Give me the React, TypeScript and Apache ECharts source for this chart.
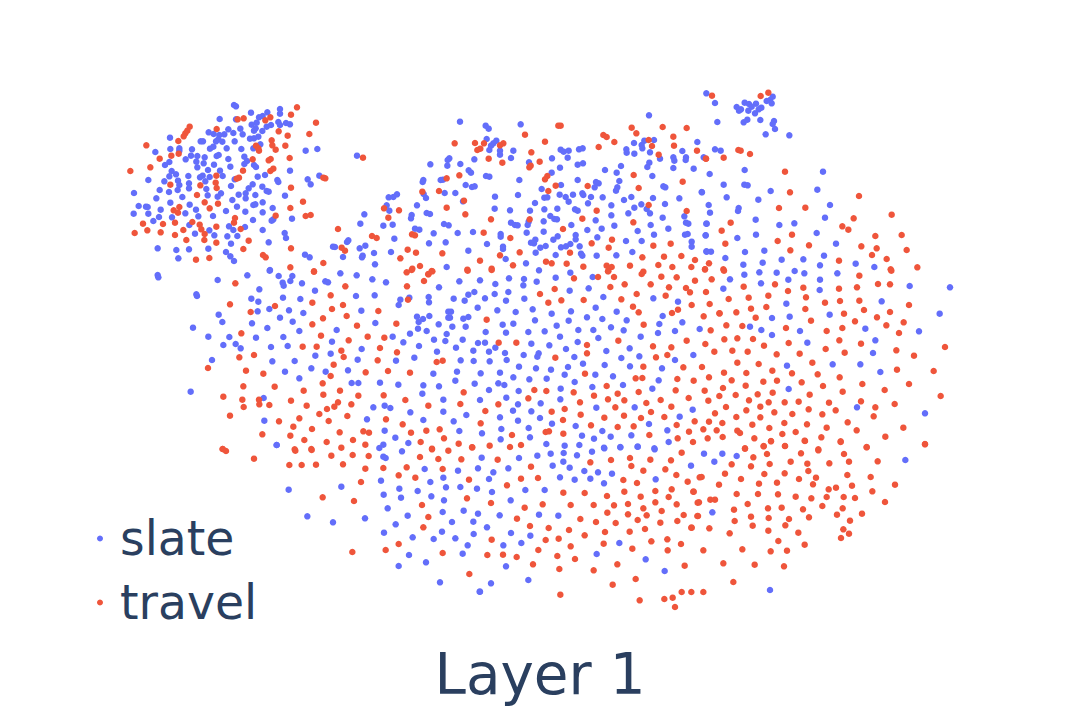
import React, { useEffect, useRef } from "react";
import * as echarts from "echarts";

// Values, per region. Each pair is (x, y) in thirds of a
// unit, measured from the region's origin on the 1080 x 720 plane.
const slateNW = [372,75,378,79,423,98,510,87,510,101,472,97,458,108,447,112,329,117,378,118,505,126,510,135,528,129,540,133,483,135,470,140,440,128,425,134,437,145,432,152,391,146,355,148,296,157,311,162,328,165,343,163,370,159,398,163,457,153,180,173,420,176,432,175,445,170,325,178,318,184,337,185,374,184,279,184,272,184,451,193,181,207,208,205,208,212,136,216,246,208,300,206,310,200,350,205,394,207,430,205,243,227,262,228,284,232,227,238,320,228,326,225,403,230,355,237,178,246,165,255,259,245,281,250,262,262,312,254,411,243,403,252,432,255,438,261,361,260,185,273,198,283,115,300,163,304,178,289,235,288,294,270,330,272,278,287,270,292,299,291,338,288,443,290,465,285,540,272,204,302,208,315,286,304,374,298,502,300,505,306,593,298,602,313,628,287,587,212,622,207,741,227,237,310,237,325,203,330,149,330,177,336,289,327,363,318,416,325,428,313,457,320,470,333,476,335,72,339,139,355,217,351,293,346,333,340,323,350,386,344,407,340,407,355,436,345,525,347,367,360,181,368,239,374,86,378,108,380,113,381,152,389,258,389,381,380,430,375,436,373,458,367,488,384,348,393,406,395,458,397,71,401,115,401,226,400,147,411,186,412,265,409,309,408,546,416,429,420,490,418,485,422,130,423,238,435,357,439,370,450,405,441,298,451,458,450,255,461,313,466,352,469,382,468,524,459,528,474,476,487,363,491,143,505,199,510,237,508,295,506,348,516,361,529,372,543,205,535,585,524,599,532,669,500,675,501,711,486,715,481,749,505,766,497,792,519,843,516,758,527,756,532,699,531,820,437,848,434,751,431,763,403,838,392,830,376,836,352,850,351,861,343,853,476,795,553,480,570,143,585,145,592];
const travelNW = [561,82,543,104,383,118,401,115,481,112,466,121,618,128,239,140,232,152,226,160,221,169,320,147,506,154,598,162,533,167,205,183,109,196,485,181,487,196,497,209,526,197,438,197,445,205,447,212,184,227,206,221,149,236,539,234,428,238,482,237,476,241,121,262,61,273,399,272,490,266,481,273,319,287,387,293,380,296,646,295,181,314,271,316,317,308,320,324,543,323,261,345,579,365,284,367,324,371,208,381,191,391,204,398,299,385,541,384,587,408,602,405,822,385,867,391,497,407,375,414,372,428,835,413,247,426,195,428,159,432,99,431,269,434,274,448,319,440,392,447,112,451,152,457,74,459,684,447,220,450,284,462,195,465,786,468,800,474,229,480,283,480,416,482,319,488,543,505,400,507,695,503,705,512,893,509,459,525,467,532,871,535,258,539,298,534,640,549,541,562,612,574,759,233,640,293];

const slateN = [717,106,150,125,332,133,227,137,236,146,230,177,259,182,250,190,243,197,238,210,270,212,270,224,310,212,452,209,461,215,476,212,507,208,518,205,672,189,703,182,732,180,695,195,697,205,649,208,650,218,673,221,720,217,817,213,862,186,118,235,113,240,193,238,303,234,426,235,473,233,750,236,790,232,793,242,828,232,827,240,61,253,112,257,151,252,357,247,503,254,519,250,718,248,712,261,450,263,585,270,633,258,620,278,790,264,851,266,176,271,183,278,425,278,727,288,228,288,238,290,40,300,38,306,92,300,99,299,328,300,503,300,628,303,566,310,558,306,554,322,622,322,618,332,167,315,186,321,194,319,395,327,453,315,760,319,766,322,875,336,104,339,136,339,41,342,48,354,255,350,324,345,449,344,489,344,517,340,520,345,403,353,412,352,543,351,578,352,467,351,664,351,729,354,808,355,159,364,642,360,476,365,375,369,534,370,694,373,21,376,604,376,765,372,254,386,442,386,300,391,360,392,403,388,495,388,503,392,673,383,710,387,720,400,655,400,50,399,60,402,5,405,3,415,604,406,758,413,823,409,421,408,433,417,441,418,303,428,315,435,323,436,401,424,356,425,353,435,557,421,102,432,116,436,484,435,722,435,828,428,835,431,889,431,613,437,575,446,532,450,683,453,775,446,15,446,28,449,71,460,189,456,143,459,401,455,350,458,272,462,272,470,443,469,497,465,497,478,430,479,562,472,732,464,825,464,833,462,887,466,376,479,363,488,372,490,648,483,695,483,845,485,845,500,57,490,107,487,231,492,279,500,279,507,407,498,391,503,453,502,468,499,481,492,509,499,175,512,667,516,889,514,377,518,437,525,513,521,517,527,560,527,619,526,287,537,110,561,348,550,387,571];
const travelN = [452,137,445,137,665,143,758,141,830,144,345,164,679,160,580,165,590,171,134,190,195,189,222,190,280,190,270,196,405,185,613,186,566,201,716,180,726,198,790,170,792,197,211,206,202,210,861,212,364,217,746,224,888,236,236,236,277,248,389,245,358,262,362,257,671,285,412,288,405,298,148,286,110,295,437,317,533,318,818,305,686,324,37,335,87,333,415,333,162,362,716,375,110,383,560,392,830,393,166,403,243,418,359,418,517,416,670,427,459,447,221,458,6,463,15,466,301,474,606,479,782,491,545,490,730,497,596,503,480,518,18,518,97,520,329,517,270,526,697,532,762,530,814,528,855,540,210,542,408,545,425,550,470,551,30,558,309,556,520,560,590,557,605,561,660,557,745,555,787,561,844,561,885,568,7,566,172,569,245,566,595,573,65,573,55,583,700,575];

const slateNE = [19,40,45,69,52,126,110,81,123,88,117,92,134,68,147,72,168,71,155,80,145,92,165,100,184,83,176,88,210,60,218,50,215,70,200,63,131,127,142,119,181,120,222,123,218,132,225,147,197,163,268,166,45,208,62,212,11,232,29,282,134,270,369,275,71,314,133,314,143,316,6,337,212,333,352,329,80,352,175,359,26,375,390,375,116,384,114,393,30,398,167,419,375,413,20,431,238,435,283,430,17,466,112,474,168,464,350,459,408,491,20,515,33,515,135,516,193,512,76,534,245,539,310,538,372,527,130,554,188,548,360,556,467,551,523,561];
const travelNE = [36,47,182,48,205,38,115,210,122,212,150,222,18,236,71,233,255,275,270,337,477,348,237,384,316,383,575,404,461,415,92,428,427,439,445,449,65,452,526,468,276,464,605,465,233,483,76,491,327,496,484,499,530,505,620,510,271,511,516,525,560,537,417,542,27,550,15,568,70,568,572,568,652,562];

const slateW = [113,30,202,16,269,2,296,18,337,18,308,38,331,33,311,47,366,40,436,34,444,37,481,10,530,16,577,28,618,37,777,52,49,73,51,78,238,58,405,62,309,83,528,78,584,76,214,86,235,95,361,87,661,89,688,83,746,81,747,97,656,105,268,117,233,124,327,121,370,129,544,122,116,134,127,156,300,143,338,155,216,160,586,159,711,140,729,147,716,156,748,138,776,163,805,125,805,143,39,173,262,174,358,183,470,180,714,176,740,183,690,191,85,200,148,201,228,203,310,201,638,200,800,192,762,209,796,213,456,215,670,217,130,225,167,222,182,235,273,231,323,228,545,237,717,228,771,245,406,257,452,251,96,270,277,274,344,273,533,269,648,272,703,263,315,305,394,295,437,305,504,301,760,311,358,325,515,339,535,339,600,338,655,344,730,346,777,349,32,365,251,384,727,371,790,389,580,412,614,407,631,414,691,427,790,425,253,452,561,448,730,450,614,482,646,503,290,525,610,524,685,519,598,534];
const travelW = [402,5,680,7,695,0,745,12,757,4,166,40,732,33,496,49,681,49,452,76,684,89,150,103,397,98,489,105,285,108,456,117,212,126,595,123,500,138,429,145,397,163,531,167,649,161,184,190,423,197,563,200,613,203,506,211,368,230,410,230,600,234,484,242,651,247,222,255,178,262,491,261,593,271,770,276,788,272,461,284,84,294,198,302,250,311,557,307,624,303,690,308,452,318,428,340,190,349,284,350,371,362,480,362,430,374,535,377,611,376,130,380,187,389,237,389,333,392,676,390,238,403,268,405,380,407,474,397,463,410,441,417,514,403,745,407,191,411,418,432,502,438,150,437,358,445,297,454,446,453,618,448,668,463,340,470,396,477,479,487,550,484,567,488,693,488,739,482,779,478,247,493,331,497,792,505,373,510,440,516,519,510,556,524,722,516,128,537,344,538,394,537,484,533,756,536];

const slateCentre = [28,34,90,31,136,42,177,25,222,27,220,46,260,35,317,23,361,8,428,21,55,74,73,66,134,72,175,66,416,55,359,62,11,86,44,92,105,85,168,92,223,86,460,81,610,85,684,95,83,113,142,121,197,126,248,118,305,131,363,124,437,113,500,125,3,125,0,143,40,146,55,141,190,161,158,164,255,151,356,152,411,142,457,147,530,151,638,138,697,157,628,162,7,170,47,170,107,186,168,188,235,186,284,184,320,167,385,180,430,180,483,172,521,181,624,189,675,183,749,177,38,209,84,219,105,218,330,200,383,216,445,204,572,200,244,221,136,233,18,233,70,242,117,245,165,249,298,226,348,237,469,243,539,235,266,250,262,260,221,255,32,271,71,273,119,274,170,270,373,261,514,264,568,259,730,255,675,270,464,285,399,281,207,290,258,295,303,299,354,291,540,289,636,295,21,305,92,310,150,308,344,314,436,314,489,319,16,332,74,341,190,322,238,328,290,326,374,336,145,340,163,345,626,331,519,345,427,351,607,356,117,360,206,363,332,356,169,383,90,390,331,388,204,403,272,400,439,413,554,412,728,419,49,435,189,422,244,424,150,442,270,444,689,440,204,452,11,454,306,461,597,462,377,468,28,483,96,490,154,477,236,474,652,481,396,497,457,483,482,500,544,496,152,508,240,502,432,506,656,516,289,522,344,527,388,525,563,530,511,531,462,533,613,535];
const travelCentre = [53,2,125,0,444,21,474,4,492,21,372,25,575,12,634,20,680,22,735,32,785,28,314,57,481,51,524,43,602,43,657,52,708,54,720,67,768,66,270,72,560,72,647,77,295,98,334,91,401,90,514,88,725,105,779,102,549,110,684,119,666,129,566,127,808,130,110,149,761,139,581,164,782,181,199,218,146,218,411,225,505,212,710,212,766,222,609,229,664,232,793,245,411,250,652,255,316,263,618,262,580,290,700,292,756,291,405,311,557,325,577,324,682,327,777,322,731,332,470,348,253,360,289,363,41,367,371,367,566,366,677,361,764,362,235,385,432,377,503,371,474,388,523,391,632,390,716,384,808,378,31,402,145,403,390,397,589,399,775,392,344,417,496,412,664,410,106,423,305,425,392,434,522,437,463,443,573,444,603,426,643,441,795,430,339,450,734,454,777,455,92,460,423,466,503,471,551,469,680,465,287,486,297,484,340,491,186,495,598,495,717,485,760,478,800,481,26,521,67,532,119,527,180,531,213,525,683,505,729,516,773,505];

const slateE = [90,28,133,14,178,7,230,8,284,3,313,10,412,10,70,56,183,40,265,29,360,29,359,60,629,48,750,52,545,94,259,101,719,131,389,134,269,140,216,144,150,170,184,180,300,183,496,176,657,184,216,195,526,211,322,218,519,249,261,287,398,283,481,283,541,306,266,357,471,412,675,430];
const travelE = [72,2,478,17,574,2,131,50,225,43,310,53,417,56,471,52,534,42,570,43,86,87,146,83,205,77,264,63,318,82,375,98,420,93,478,92,627,105,199,111,153,116,316,117,492,120,109,127,59,130,570,126,432,131,167,143,531,142,333,152,79,166,127,168,258,174,465,154,611,157,559,166,380,183,427,174,597,189,73,208,112,205,159,207,418,211,266,219,192,227,483,221,97,242,143,245,377,237,434,248,735,231,589,241,230,253,299,251,642,257,112,278,176,282,337,278,217,302,72,308,276,310,139,309,701,303,591,299,353,313,95,331,419,322,231,332,190,335,305,337,627,342,487,342,137,347,69,354,369,348,554,360,107,375,173,373,218,368,329,374,428,365,722,378,147,391,206,397,254,397,296,395,387,398,483,394,584,402,78,411,181,410,526,412,139,421,326,418,407,421,223,427,277,432,367,433,109,441,181,442,521,439,67,459,253,459,157,464,321,463,443,457,208,474,380,473,610,473,470,481,112,482,120,489,247,492,287,486,68,501,163,505,364,502,556,500,213,513,314,512,422,514,500,531,675,522,191,528,255,528,135,535,355,538];

const slateSW = [206,149,364,140,546,34,490,50,497,54,614,87,714,92,774,85,670,113,483,122,631,126,538,146,491,164,593,153,678,142,721,141,771,146,543,173,634,169,672,181,503,205,668,216,731,212,774,221,563,227,262,229,339,247,435,235,527,253,696,246,760,245,492,278,666,275,761,282,578,292,641,297,706,295,743,316,567,345,728,341,618,367,536,378,660,427,779,455,170,15];
const travelSW = [226,32,275,30,334,47,398,45,446,48,600,51,636,28,685,32,756,22,655,57,724,58,208,75,245,75,288,74,369,73,436,86,490,84,560,82,668,87,536,106,586,113,423,126,747,119,741,175,308,172,402,183,606,195,625,231,610,262,536,312,497,330,397,336,668,339,748,402,102,56,8,27,18,33];

const slateS = [5,53,117,54,172,47,212,41,251,39,291,46,336,35,373,25,421,22,473,20,524,28,218,77,250,65,269,83,85,85,40,97,313,93,354,97,396,101,633,77,27,117,240,112,284,119,331,116,372,130,527,118,36,156,136,150,194,150,92,181,59,226,177,224,235,227,21,262,93,279,151,287,70,316,124,309,418,309,350,342,497,358,78,379,554,393,145,420,33,430,0,455];
const travelS = [605,38,53,59,153,80,331,67,393,60,450,54,511,59,573,61,454,78,490,92,556,88,589,105,123,116,174,114,81,136,430,120,471,129,623,125,659,112,250,158,314,159,381,168,433,155,526,153,575,148,640,155,482,170,566,171,33,189,134,203,188,193,272,195,341,195,402,196,444,192,526,187,590,193,653,188,490,205,545,213,382,218,444,223,500,226,611,225,652,228,111,236,301,237,348,246,407,249,473,240,592,243,541,248,150,258,206,264,267,270,375,276,449,275,495,267,634,263,35,299,197,300,236,296,314,286,514,304,562,298,371,311,603,312,272,319,457,326,563,331,175,330,22,345,69,344,110,351,232,348,285,357,159,373,412,373,614,377,238,387,341,391,467,417,398,434,241,464,605,456,634,456,479,481,553,477,578,473,585,501];

const slateSE = [42,41,97,41,140,48,73,65,646,60,67,217,240,450];
const travelSE = [165,26,221,19,285,18,243,4,345,3,452,6,530,22,705,13,190,52,231,42,333,40,385,31,462,42,125,73,183,79,239,72,302,65,352,71,418,70,477,65,563,64,105,101,223,102,284,100,355,93,472,105,35,111,153,117,327,117,378,113,542,111,87,134,207,131,261,128,369,133,438,143,486,137,615,134,416,148,547,154,11,155,140,162,204,162,264,163,317,170,364,175,410,171,461,171,495,174,61,179,75,179,27,187,173,192,585,186,397,198,234,205,275,203,339,208,458,205,132,209,516,221,441,224,24,228,183,230,236,234,297,237,357,232,134,243,480,242,188,257,286,256,58,265,5,263,235,272,325,278,460,268,119,280,477,281,453,294,265,303,344,314,40,331,157,328,242,334,291,332,100,370,194,374,282,379,130,426,40,456];

const seriesNames = ["slate", "travel"];
const titleText = "Layer 1";

function toPlane(originX: number, originY: number, flat: number[]): number[][] {
  const out: number[][] = [];
  for (let i = 0; i + 1 < flat.length; i += 2) {
    out.push([originX + flat[i] / 3, originY + flat[i + 1] / 3]);
  }
  return out;
}

const slatePoints = [
  ...toPlane(110, 80, slateNW),
  ...toPlane(410, 80, slateN),
  ...toPlane(700, 80, slateNE),
  ...toPlane(180, 270, slateW),
  ...toPlane(450, 270, slateCentre),
  ...toPlane(700, 270, slateE),
  ...toPlane(220, 440, slateSW),
  ...toPlane(480, 440, slateS),
  ...toPlane(690, 440, slateSE),
];
const travelPoints = [
  ...toPlane(110, 80, travelNW),
  ...toPlane(410, 80, travelN),
  ...toPlane(700, 80, travelNE),
  ...toPlane(180, 270, travelW),
  ...toPlane(450, 270, travelCentre),
  ...toPlane(700, 270, travelE),
  ...toPlane(220, 440, travelSW),
  ...toPlane(480, 440, travelS),
  ...toPlane(690, 440, travelSE),
];

const FONT = "'DejaVu Sans', Verdana, sans-serif";
const INK = "#2a3f5f";

export default function App() {
  const ref = useRef<HTMLDivElement>(null);
  useEffect(() => {
    document.body.style.margin = "0";
    const chart = echarts.init(ref.current!, null, { renderer: "svg" });
    chart.setOption({
      animation: false,
      backgroundColor: "#ffffff",
      color: ["#636efa", "#ef553b"],
      title: {
        text: titleText,
        left: "center",
        top: 646,
        textStyle: { fontFamily: FONT, fontSize: 56.4, fontWeight: "normal", color: INK },
        padding: 0,
      },
      legend: {
        orient: "vertical",
        left: 97,
        top: 515,
        padding: 0,
        itemWidth: 6,
        itemHeight: 6,
        itemGap: 17,
        icon: "circle",
        data: seriesNames,
        textStyle: { fontFamily: FONT, fontSize: 47.3, color: INK, padding: [6, 0, 0, 12] },
      },
      grid: { left: 0, right: 0, top: 0, bottom: 0 },
      xAxis: { type: "value", min: 0, max: 1080, show: false },
      yAxis: { type: "value", min: 0, max: 720, inverse: true, show: false },
      series: [
        { name: seriesNames[0], type: "scatter", symbolSize: 6.5, data: slatePoints, itemStyle: { opacity: 1 } },
        { name: seriesNames[1], type: "scatter", symbolSize: 6.5, data: travelPoints, itemStyle: { opacity: 1 } },
      ],
    });
    return () => chart.dispose();
  }, []);
  return <div ref={ref} style={{ width: 1080, height: 720 }} />;
}
